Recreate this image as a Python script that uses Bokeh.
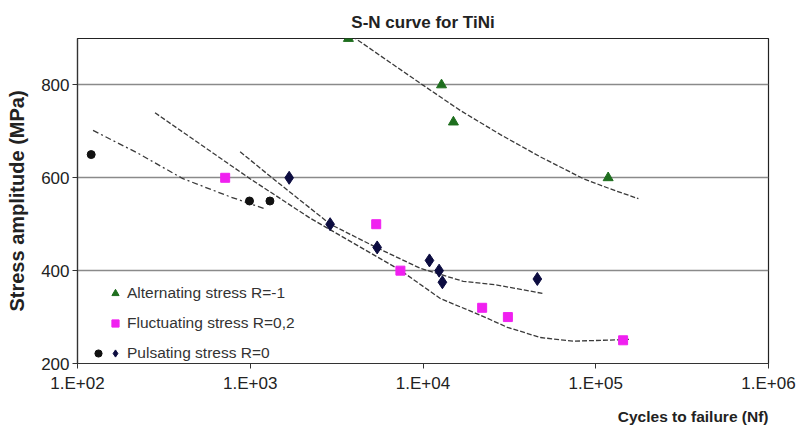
from bokeh.plotting import figure
from bokeh.models import Legend, LegendItem, Title, FixedTicker, CustomJSTickFormatter, Range1d
from bokeh.embed import file_html
from bokeh.resources import INLINE

# ---- data ----
alt_n = [3700, 12800, 15000, 118000]
alt_s = [900, 800, 720, 600]

fluc_n = [716, 5360, 7400, 22000, 31000, 144000]
fluc_s = [600, 500, 400, 320, 300, 250]

puls_circ_n = [120, 990, 1300]
puls_circ_s = [650, 550, 550]

puls_diam_n = [1680, 2900, 5430, 10900, 12400, 12950, 45900]
puls_diam_s = [600, 500, 450, 422, 400, 375, 382]

# trend curves
alt_fit_n = [3890, 6300, 10050, 16440, 28060, 47860, 84900, 121600, 176600]
alt_fit_s = [905, 851, 799, 745, 693, 645, 598, 576, 555]

fluc_fit_n = [281, 997, 2223, 7380, 12590, 21480, 30760, 47860, 74300, 158900]
fluc_fit_s = [740, 598, 513, 401, 340, 304, 278, 256, 248, 252]

diam_fit_n = [874, 1358, 2904, 5430, 9640, 17100, 26900, 49100]
diam_fit_s = [656, 598, 500, 449, 405, 377, 369, 351]

circ_fit_n = [123, 221, 408, 765, 1219]
circ_fit_s = [702, 654, 598, 559, 533]

x_ticks = [1e2, 1e3, 1e4, 1e5, 1e6]
y_ticks = [200, 400, 600, 800]

FONT = "Liberation Sans"

p = figure(width=806, height=437, x_axis_type="log", output_backend="svg",
           toolbar_location=None, x_range=Range1d(1e2, 1e6), y_range=Range1d(200, 900),
           min_border_left=77, min_border_right=38, min_border_top=38, min_border_bottom=74)

p.title.text = "S-N curve for TiNi"
p.title.text_font = FONT
p.title.text_font_size = "17px"
p.title.text_font_style = "bold"
p.title.text_color = "#222222"
p.title.align = "center"
p.title.offset = -19
p.title.standoff = 14

xlab = Title(text="Cycles to failure (Nf)", align="right", text_font=FONT,
             text_font_size="15.5px", text_font_style="bold", text_color="#222222",
             standoff=20)
p.add_layout(xlab, "below")

p.outline_line_color = "#222222"
p.outline_line_width = 1.2
p.xgrid.grid_line_color = None
p.ygrid.grid_line_color = "#8a8a8a"
p.ygrid.grid_line_width = 1.6

p.xaxis.ticker = FixedTicker(ticks=x_ticks)
p.xaxis.formatter = CustomJSTickFormatter(code="""
const e = Math.round(Math.log10(tick));
return "1.E+" + (e < 10 ? "0" : "") + e;
""")
p.yaxis.ticker = FixedTicker(ticks=y_ticks)
p.yaxis.axis_label = "Stress amplitude (MPa)"
p.yaxis.axis_label_text_font = FONT
p.yaxis.axis_label_text_font_size = "20px"
p.yaxis.axis_label_text_font_style = "bold"
p.yaxis.axis_label_text_color = "#222222"
p.yaxis.axis_label_standoff = 10

for ax in (p.xaxis, p.yaxis):
    ax.major_label_text_font = FONT
    ax.major_label_text_font_size = "17px"
    ax.major_label_text_color = "#222222"
    ax.axis_line_color = "#333333"
    ax.axis_line_width = 1.2
    ax.major_tick_line_color = "#333333"
    ax.major_tick_in = 0
    ax.major_tick_out = 5
    ax.minor_tick_line_color = None
p.xaxis.major_label_standoff = 5
p.yaxis.major_label_standoff = 3

LC = "#3a3a3a"
p.line(alt_fit_n, alt_fit_s, line_color=LC, line_width=1.3, line_dash="5 2")
p.line(fluc_fit_n, fluc_fit_s, line_color=LC, line_width=1.3, line_dash="5 2")
p.line(diam_fit_n, diam_fit_s, line_color=LC, line_width=1.3, line_dash="5 2")
p.line(circ_fit_n, circ_fit_s, line_color=LC, line_width=1.3, line_dash="6 3 2 3")

r_alt = p.scatter(alt_n, alt_s, marker="triangle", size=10, fill_color="#1e6e1e", line_color="#1e6e1e")
r_fluc = p.scatter(fluc_n, fluc_s, marker="square", size=9, fill_color="#f020f0", line_color="#f020f0")
r_circ = p.scatter(puls_circ_n, puls_circ_s, marker="circle", size=8, fill_color="#111111", line_color="#111111")
r_diam = p.scatter(puls_diam_n, puls_diam_s, marker="diamond", size=13, fill_color="#0c0c40", line_color="#0c0c40")

def style_legend(lg):
    lg.background_fill_alpha = 0
    lg.border_line_alpha = 0
    lg.margin = 0
    lg.padding = 0
    lg.spacing = 10
    lg.glyph_width = 18
    lg.glyph_height = 20
    lg.label_height = 20
    lg.label_standoff = 3
    lg.label_text_font = FONT
    lg.label_text_font_size = "15.5px"
    lg.label_text_color = "#333333"

leg = Legend(items=[LegendItem(label="Alternating stress R=-1", renderers=[r_alt]),
                    LegendItem(label="Fluctuating stress R=0,2", renderers=[r_fluc]),
                    LegendItem(label="Pulsating stress R=0", renderers=[r_diam])],
             location=(29, 0))
style_legend(leg)
p.add_layout(leg, "center")

leg2 = Legend(items=[LegendItem(label=" ", renderers=[r_circ])], location=(12, 0))
style_legend(leg2)
p.add_layout(leg2, "center")

open("out.html", "w").write(file_html(p, INLINE))
